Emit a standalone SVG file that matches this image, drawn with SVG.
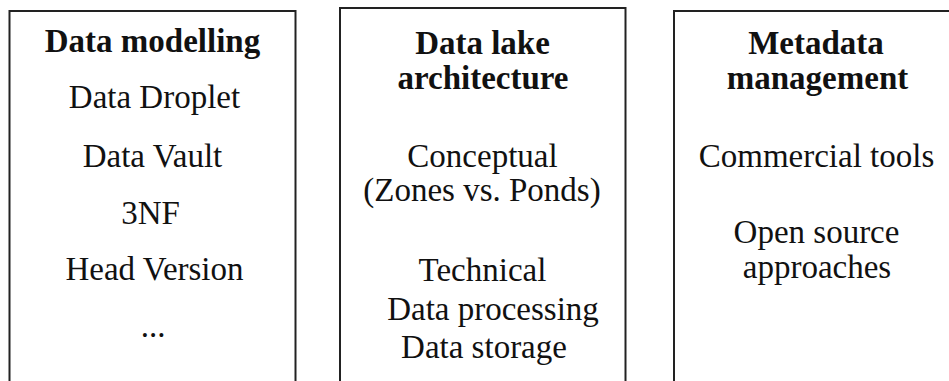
<svg xmlns="http://www.w3.org/2000/svg" width="949" height="381" viewBox="0 0 949 381">
  <style>
    .panel { fill: #ffffff; stroke: #222222; stroke-width: 2; }
    text { font-family: "Liberation Serif", "Times New Roman", serif; font-size: 33px; fill: #111111; text-anchor: middle; }
    .title { font-weight: bold; }
  </style>
  <rect width="949" height="381" fill="#ffffff"/>

  <!-- Panel 1: data modelling -->
  <g id="data-modelling">
    <rect class="panel" x="9.5" y="11" width="286" height="400"/>
    <text class="title" x="152.5" y="52">Data modelling</text>
    <text x="154.5" y="108">Data Droplet</text>
    <text x="152.5" y="166.5">Data Vault</text>
    <text x="150.5" y="224">3NF</text>
    <text x="154.5" y="279.5">Head Version</text>
    <text x="153" y="337">...</text>
  </g>

  <!-- Panel 2: data lake architecture -->
  <g id="data-lake-architecture">
    <rect class="panel" x="340" y="8" width="285.5" height="400"/>
    <text class="title" x="482.5" y="53.5">Data lake</text>
    <text class="title" x="483" y="88.5">architecture</text>
    <text x="482.5" y="167">Conceptual</text>
    <text x="482" y="201">(Zones vs. Ponds)</text>
    <text x="482.5" y="281">Technical</text>
    <text x="493" y="319.5">Data processing</text>
    <text x="484" y="357.5">Data storage</text>
  </g>

  <!-- Panel 3: metadata management -->
  <g id="metadata-management">
    <rect class="panel" x="674" y="11" width="286" height="400"/>
    <text class="title" x="816" y="53.5">Metadata</text>
    <text class="title" x="817.5" y="88.5">management</text>
    <text x="816.5" y="167">Commercial tools</text>
    <text x="816.5" y="243">Open source</text>
    <text x="817" y="278">approaches</text>
  </g>
</svg>
